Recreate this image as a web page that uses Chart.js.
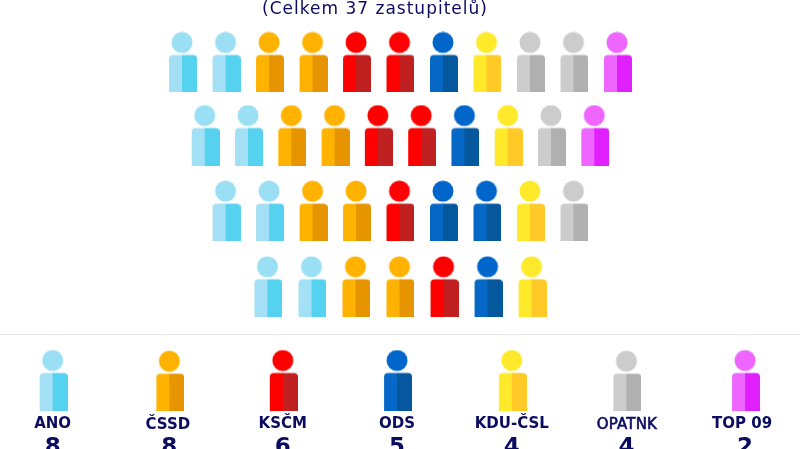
<!DOCTYPE html>
<html>
<head>
<meta charset="utf-8">
<script src="https://cdn.jsdelivr.net/npm/chart.js@4"></script>
<style>
  html, body { margin: 0; padding: 0; background: #fff; overflow: hidden; }
  #wrap { width: 800px; height: 449px; }
</style>
</head>
<body>
<div id="wrap"><canvas id="chart" width="800" height="449"></canvas></div>
<script>
const title = "(Celkem 37 zastupitelů)";
const parties = ["ANO", "ČSSD", "KSČM", "ODS", "KDU-ČSL", "OPATNK", "TOP 09"];
const seats = [8, 8, 6, 5, 4, 4, 2];
const row1 = ["ANO", "ANO", "ČSSD", "ČSSD", "KSČM", "KSČM", "ODS", "KDU-ČSL", "OPATNK", "OPATNK", "TOP 09"];
const row2 = ["ANO", "ANO", "ČSSD", "ČSSD", "KSČM", "KSČM", "ODS", "KDU-ČSL", "OPATNK", "TOP 09"];
const row3 = ["ANO", "ANO", "ČSSD", "ČSSD", "KSČM", "ODS", "ODS", "KDU-ČSL", "OPATNK"];
const row4 = ["ANO", "ANO", "ČSSD", "ČSSD", "KSČM", "ODS", "KDU-ČSL"];
const rows = [row1, row2, row3, row4];

// barvy: hlava, leva a prava polovina tela
const tones = {
  "ANO": ["#9adff3", "#a3e0f5", "#55d2f0"],
  "ČSSD": ["#ffb300", "#ffb300", "#e69500"],
  "KSČM": ["#ff0000", "#ff0000", "#c02020"],
  "ODS": ["#0066cc", "#0668c6", "#05579e"],
  "KDU-ČSL": ["#ffe92b", "#ffe92b", "#ffca28"],
  "OPATNK": ["#cccccc", "#cccccc", "#b0b0b0"],
  "TOP 09": ["#ee66ff", "#ee66ff", "#e020ff"]
};

const navy = "#0b0b60";

// drobne posuny podle predlohy (rady nejsou v predloze uplne pravidelne)
const rowLevel = [0, 0.978, 1.991, 3.004];
const rowPitch = [1, 0.995, 1, 1.012];
const keyNudge = [0, 0.012, -0.004, -0.013, -0.018, -0.024, 0.005];
const keyDrop = [0, 0.7, 0, 0, 0, 0.7, 0];
const labelShift = [0, -1.5, 0, 0, 0, 0.5, -3];
const labelDrop = [0, 1, 0, 0, 0, 0.5, 0];

function figure(party) {
  const [head, left, right] = tones[party];
  const c = document.createElement("canvas");
  c.width = 30;
  c.height = 61;
  const g = c.getContext("2d");
  g.fillStyle = head;
  g.beginPath();
  g.arc(15, 11, 10.5, 0, Math.PI * 2);
  g.fill();
  g.fillStyle = left;
  g.beginPath();
  g.roundRect(2, 23.5, 13.5, 37.5, [4, 0, 0, 0]);
  g.fill();
  g.fillStyle = right;
  g.beginPath();
  g.roundRect(15, 23.5, 15, 37.5, [0, 4, 0, 0]);
  g.fill();
  return c;
}

const figures = {};
parties.forEach(p => figures[p] = figure(p));

const seatPoints = [];
rows.forEach((row, r) => {
  row.forEach((party, i) => {
    seatPoints.push({ x: (i - (row.length - 1) / 2) * rowPitch[r], y: rowLevel[r], party });
  });
});
const keyPoints = parties.map((party, i) => ({ x: i + keyNudge[i], y: keyDrop[i], party }));

const texts = {
  id: "texts",
  afterDatasetsDraw(chart) {
    const { ctx, scales } = chart;
    ctx.save();
    ctx.textAlign = "center";
    ctx.textBaseline = "alphabetic";
    ctx.fillStyle = navy;
    ctx.strokeStyle = navy;
    ctx.font = '17px "DejaVu Sans"';
    ctx.letterSpacing = "1px";
    ctx.fillText(title, 375, 13.5);
    ctx.letterSpacing = "0px";
    parties.forEach((p, i) => {
      const x = scales.xKey.getPixelForValue(keyPoints[i].x);
      if (p === "OPATNK") {
        // v predloze je tenci nez ostatni, ale ne uplne regular
        ctx.font = '15px "DejaVu Sans"';
        ctx.letterSpacing = "0.2px";
        ctx.lineWidth = 0.6;
        ctx.strokeText(p, x + labelShift[i], 428 + labelDrop[i]);
      } else {
        ctx.font = 'bold 15px "DejaVu Sans"';
      }
      ctx.fillText(p, x + labelShift[i], 428 + labelDrop[i]);
      ctx.letterSpacing = "0px";
      ctx.font = 'bold 23px "DejaVu Sans"';
      ctx.fillText(String(seats[i]), x, 454);
    });
    ctx.strokeStyle = "#e8e8e8";
    ctx.lineWidth = 1;
    ctx.beginPath();
    ctx.moveTo(0, 334.5);
    ctx.lineTo(800, 334.5);
    ctx.stroke();
    ctx.restore();
  }
};

const pointImages = ctx => figures[ctx.raw.party];

new Chart(document.getElementById("chart"), {
  type: "scatter",
  data: {
    datasets: [
      { label: "Zastupitelé", data: seatPoints, xAxisID: "x", yAxisID: "y", pointStyle: pointImages },
      { label: "Strany", data: keyPoints, xAxisID: "xKey", yAxisID: "yKey", pointStyle: pointImages }
    ]
  },
  options: {
    responsive: false,
    animation: false,
    layout: { padding: 0, autoPadding: false },
    plugins: { legend: { display: false }, title: { display: false }, tooltip: { enabled: false } },
    scales: {
      x: { display: false, min: -9.184, max: 9.207 },
      y: { display: false, reverse: true, min: -0.83, max: 5.183 },
      xKey: { display: false, min: -0.4566, max: 6.4816 },
      yKey: { display: false, reverse: true, min: -380, max: 69 }
    }
  },
  plugins: [texts]
});
</script>
</body>
</html>
